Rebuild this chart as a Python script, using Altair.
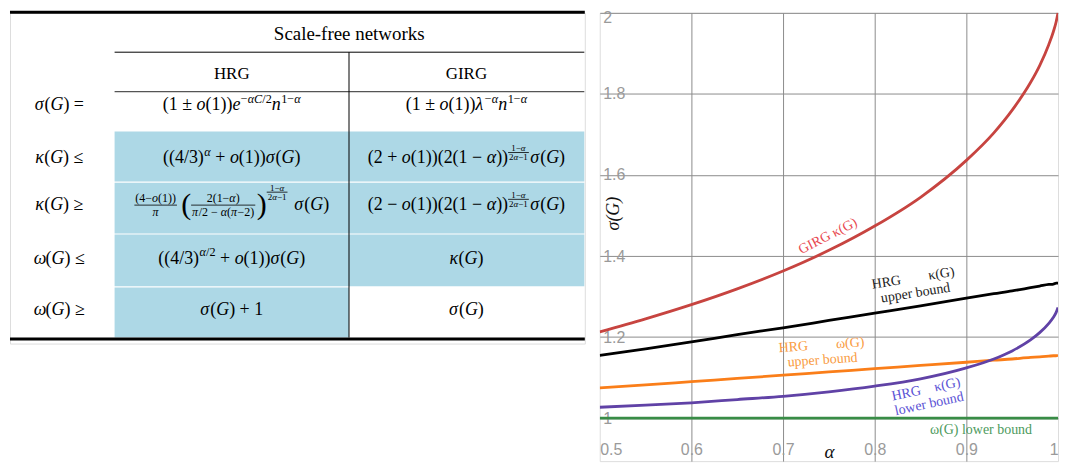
import altair as alt
import pandas as pd

# ---------------- curve data ----------------
alpha = [0.5, 0.55, 0.6, 0.65, 0.7, 0.75, 0.8, 0.85, 0.9, 0.93, 0.95, 0.97, 0.98, 0.99, 0.995, 0.998, 1.0]
girg_kappa = [1.213, 1.245, 1.280, 1.319, 1.363, 1.414, 1.474, 1.545, 1.636, 1.704, 1.760, 1.828, 1.870, 1.922, 1.954, 1.978, 2.0]
hrg_kappa_upper = [1.155, 1.171, 1.188, 1.206, 1.223, 1.241, 1.259, 1.277, 1.296, 1.307, 1.314, 1.322, 1.326, 1.330, 1.331, 1.333, 1.333]
hrg_omega_upper = [1.075, 1.082, 1.090, 1.098, 1.106, 1.114, 1.122, 1.130, 1.138, 1.143, 1.146, 1.150, 1.151, 1.153, 1.154, 1.154, 1.155]
hrg_kappa_lower = [1.027, 1.032, 1.038, 1.046, 1.054, 1.065, 1.079, 1.097, 1.124, 1.146, 1.166, 1.193, 1.211, 1.234, 1.249, 1.261, 1.273]
omega_lower = [1.0, 1.0, 1.0, 1.0, 1.0, 1.0, 1.0, 1.0, 1.0, 1.0, 1.0, 1.0, 1.0, 1.0, 1.0, 1.0, 1.0]

series_names = ["ω(G) lower bound", "HRG ω(G) upper bound", "HRG κ(G) lower bound",
                "HRG κ(G) upper bound", "GIRG κ(G)"]
series_values = [omega_lower, hrg_omega_upper, hrg_kappa_lower, hrg_kappa_upper, girg_kappa]
series_colors = ["#388c46", "#fa7e19", "#6042a6", "#000000", "#c74440"]

# curve annotations (placed in data coordinates; two-line labels anchored on their first line)
ann_text = ["GIRG κ(G)", "HRG\u2003\u2003κ(G)\nupper bound", "HRG\u2003\u2003ω(G)\nupper bound",
            "HRG\u2003κ(G)\nlower bound", "ω(G) lower bound"]
ann_alpha = [0.749, 0.842, 0.742, 0.856, 0.916]
ann_value = [1.449, 1.345, 1.180, 1.071, 0.972]
ann_angle = [333, 351, 356, 348, 0]
ann_color = ["#e8474f", "#222222", "#f99b3e", "#5a52d5", "#4c9a5c"]

x_ticks = [0.5, 0.6, 0.7, 0.8, 0.9, 1.0]
y_ticks = [1.0, 1.2, 1.4, 1.6, 1.8, 2.0]

# ---------------- table content ----------------
table_title = "Scale-free networks"
col_headers = ["HRG", "GIRG"]
row_labels = ["σ(G) =", "κ(G) ≤", "κ(G) ≥", "ω(G) ≤", "ω(G) ≥"]
SUPFRAC = ("frac", "1−α", "2α−1", 9, 10.8, 1.3)
hrg_cells = [
    [("t", "(1 ± o(1))e"), ("sup", "−αC/2"), ("t", "n"), ("sup", "1−α")],
    [("t", "((4/3)"), ("sup", "α"), ("t", " + o(1))σ(G)")],
    [("frac", "(4−o(1))", "π", 12, 5, 3), ("sp", 0.15), ("paren", "(", 30, 4),
     ("frac", "2(1−α)", "π/2 − α(π−2)", 12, 5, 3), ("paren", ")", 30, 4),
     ("frac", "1−α", "2α−1", 9, 18, 1.3), ("sp", 0.3), ("t", "σ(G)")],
    [("t", "((4/3)"), ("sup", "α/2"), ("t", " + o(1))σ(G)")],
    [("t", "σ(G) + 1")],
]
girg_cells = [
    [("t", "(1 ± o(1))λ"), ("sup", "−α"), ("t", "n"), ("sup", "1−α")],
    [("t", "(2 + o(1))(2(1 − α))"), SUPFRAC, ("t", "σ(G)")],
    [("t", "(2 − o(1))(2(1 − α))"), SUPFRAC, ("t", "σ(G)")],
    [("t", "κ(G)")],
    [("t", "σ(G)")],
]
girg_shaded = [False, True, True, True, False]
hrg_shaded = [False, True, True, True, True]

# ---------------- table layout (pixels of the table panel) ----------------
S = 18
COL_EDGES = [7, 112, 347.3, 583.5]
ROW_EDGES = [87, 127, 178, 230, 283, 334]
ROW_CENTER = [101, 154, 201, 255, 306]
LABEL_X = 56.5
COL_CENTER = [229.6, 465.2]

W_EM = {c: 0.5 for c in "0123456789"}
W_EM.update({' ': 0.25, '(': 0.333, ')': 0.333, '+': 0.564, '−': 0.564, '±': 0.549, '=': 0.564,
             '≤': 0.549, '≥': 0.549, '/': 0.278, 'o': 0.5, 'e': 0.444, 'n': 0.5, 'C': 0.667,
             'G': 0.722, 'α': 0.53, 'σ': 0.55, 'κ': 0.5, 'λ': 0.5, 'ω': 0.66, 'π': 0.55})
LETTERS = set("abcdefghijklmnopqrstuvwxyzABCDEFGHIJKLMNOPQRSTUVWXYZ") | set("ακλσωπ")


def tw(s, size):
    return sum(W_EM.get(c, 0.5) for c in s) * size


def split_runs(s):
    out = []
    for c in s:
        it = (out[-1][1] if out else False) if c == ' ' else (c in LETTERS)
        if out and out[-1][1] == it:
            out[-1][0] += c
        else:
            out.append([c, it])
    return out


def put_text(frags, s, x, y, size):
    for run, it in split_runs(s):
        stripped = run.strip(' ')
        lead = len(run) - len(run.lstrip(' '))
        trail = len(run) - len(run.rstrip(' '))
        x += lead * W_EM[' '] * size
        if stripped:
            frags.append(dict(x=x, y=y, text=stripped, size=size, italic=it))
            x += tw(stripped, size)
        x += trail * W_EM[' '] * size
    return x


def layout(tokens, cx, B):
    frags, bars = [], []
    x = 0.0
    for tok in tokens:
        kind = tok[0]
        if kind == "t":
            x = put_text(frags, tok[1], x, B, S)
        elif kind == "sup":
            x = put_text(frags, tok[1], x + 0.5, B - 0.42 * S, 0.68 * S)
        elif kind == "frac":
            _, num, den, fs, lift, gap = tok
            axis = B - lift
            wn, wd = tw(num, fs), tw(den, fs)
            w = max(wn, wd) + 2
            put_text(frags, num, x + (w - wn) / 2, axis - gap, fs)
            put_text(frags, den, x + (w - wd) / 2, axis + gap + 0.7 * fs, fs)
            bars.append(dict(x=x, x2=x + w, y=axis, y2=axis, color="#000000", w=0.8))
            x += w + 1.5
        elif kind == "paren":
            _, ch, size, dy = tok
            x = put_text(frags, ch, x, B + dy, size)
        elif kind == "sp":
            x += tok[1] * S
    shift = cx - x / 2
    for f in frags:
        f["x"] += shift
    for b in bars:
        b["x"] += shift
        b["x2"] += shift
    return frags, bars


frags, rules = [], []
for r in range(5):
    B = ROW_CENTER[r] + 5
    for toks, cx in [([("t", row_labels[r])], LABEL_X), (hrg_cells[r], COL_CENTER[0]),
                     (girg_cells[r], COL_CENTER[1])]:
        f, b = layout(toks, cx, B)
        frags += f
        rules += b

rects = []
for r in range(5):
    y0 = ROW_EDGES[r] + (0.6 if r > 1 else 0)
    y1 = ROW_EDGES[r + 1] - 0.6
    if hrg_shaded[r]:
        rects.append(dict(x=COL_EDGES[1], x2=COL_EDGES[2], y=y0, y2=(ROW_EDGES[r + 1] if r == 4 else y1)))
    if girg_shaded[r]:
        rects.append(dict(x=COL_EDGES[2], x2=COL_EDGES[3], y=y0, y2=y1))

rules += [
    dict(x=7, x2=584, y=7.5, y2=7.5, color="#000000", w=3),
    dict(x=112, x2=583.5, y=47.5, y2=47.5, color="#000000", w=1),
    dict(x=112, x2=583.5, y=87, y2=87, color="#555555", w=1.3),
    dict(x=347.3, x2=347.3, y=47.5, y2=334, color="#000000", w=1),
    dict(x=7, x2=584, y=335.5, y2=335.5, color="#000000", w=3),
]

centered = pd.DataFrame([
    dict(x=347.5, y=35, text=table_title, size=19),
    dict(x=COL_CENTER[0], y=74, text=col_headers[0], size=17),
    dict(x=COL_CENTER[1], y=74, text=col_headers[1], size=17),
])

frag_df = pd.DataFrame(frags)
rule_df = pd.DataFrame(rules)
rect_df = pd.DataFrame(rects)

tx = alt.X("x:Q", scale=alt.Scale(domain=[7, 584], nice=False, zero=False), axis=None)
ty = alt.Y("y:Q", scale=alt.Scale(domain=[8, 340], nice=False, zero=False, reverse=True), axis=None)

t_rects = alt.Chart(rect_df).mark_rect(color="#add8e6").encode(x=tx, x2="x2:Q", y=ty, y2="y2:Q")
t_rules = alt.Chart(rule_df).mark_rule().encode(
    x=tx, x2="x2:Q", y=ty, y2="y2:Q",
    color=alt.Color("color:N", scale=None),
    strokeWidth=alt.StrokeWidth("w:Q", scale=None),
)
t_up = alt.Chart(frag_df[~frag_df["italic"]]).mark_text(
    align="left", baseline="alphabetic", font="Liberation Serif", color="#000000"
).encode(x=tx, y=ty, text="text:N", size=alt.Size("size:Q", scale=None))
t_it = alt.Chart(frag_df[frag_df["italic"]]).mark_text(
    align="left", baseline="alphabetic", font="Liberation Serif", fontStyle="italic", color="#000000"
).encode(x=tx, y=ty, text="text:N", size=alt.Size("size:Q", scale=None))
t_head = alt.Chart(centered).mark_text(
    align="center", baseline="alphabetic", font="Liberation Serif", color="#000000"
).encode(x=tx, y=ty, text="text:N", size=alt.Size("size:Q", scale=None))

table = alt.layer(t_rects, t_rules, t_up, t_it, t_head).properties(width=577, height=332)

# ---------------- plot ----------------
rows = []
for name, vals in zip(series_names, series_values):
    for a, v in zip(alpha, vals):
        rows.append(dict(alpha=a, value=v, series=name))
line_df = pd.DataFrame(rows)
ann_df = pd.DataFrame(dict(alpha=ann_alpha, value=ann_value, text=ann_text, angle=ann_angle, color=ann_color))

px = alt.X("alpha:Q", scale=alt.Scale(domain=[0.5, 1.0], nice=False, zero=False),
           axis=alt.Axis(values=x_ticks, format=".1~f", title="α", titleFont="Liberation Serif",
                         titleFontStyle="italic", titleFontWeight="normal", titleFontSize=19,
                         titleColor="#111111", titleY=-4, titleBaseline="alphabetic",
                         labelFont="Liberation Sans", labelFontSize=16, labelColor="#9a9a9a",
                         labelPadding=-12, labelBaseline="middle", labelFlush=True,
                         ticks=False, tickSize=0, domain=False, grid=True, gridColor="#8c8c8c",
                         gridWidth=1,
                         gridOpacity={"condition": {"test": "datum.value <= 0.5 || datum.value >= 1",
                                                    "value": 0}, "value": 1}))
py = alt.Y("value:Q", scale=alt.Scale(domain=[0.894, 2.0], nice=False, zero=False),
           axis=alt.Axis(values=y_ticks, format=".1~f", title="σ(G)", titleFont="Liberation Serif",
                         titleFontStyle="italic", titleFontWeight="normal", titleFontSize=18,
                         titleColor="#111111", titleAngle=270, titleX=14, titleY=201,
                         titleAlign="center", titleBaseline="middle",
                         labelFont="Liberation Sans", labelFontSize=16, labelColor="#9a9a9a",
                         labelAlign="left", labelPadding=-3, labelFlush=True, labelFlushOffset=3,
                         ticks=False, tickSize=0, domain=False, grid=True, gridColor="#8c8c8c",
                         gridWidth=1))

lines = alt.Chart(line_df).mark_line(strokeWidth=2.8, interpolate="monotone", clip=True).encode(
    x=px, y=py,
    color=alt.Color("series:N", scale=alt.Scale(domain=series_names, range=series_colors), legend=None),
)
labels = alt.Chart(ann_df).mark_text(
    font="Liberation Serif", fontSize=14, lineBreak="\n", lineHeight=15,
    align="center", baseline="middle"
).encode(
    x=px, y=py, text="text:N",
    angle=alt.Angle("angle:Q", scale=None),
    color=alt.Color("color:N", scale=None),
)

plot = alt.layer(lines, labels).properties(width=460, height=450)

chart = alt.hconcat(table, plot, spacing=12, padding=0).configure_view(stroke=None).configure(background="#ffffff")

chart.save("out.html", embed_options={"renderer": "svg", "actions": False})
